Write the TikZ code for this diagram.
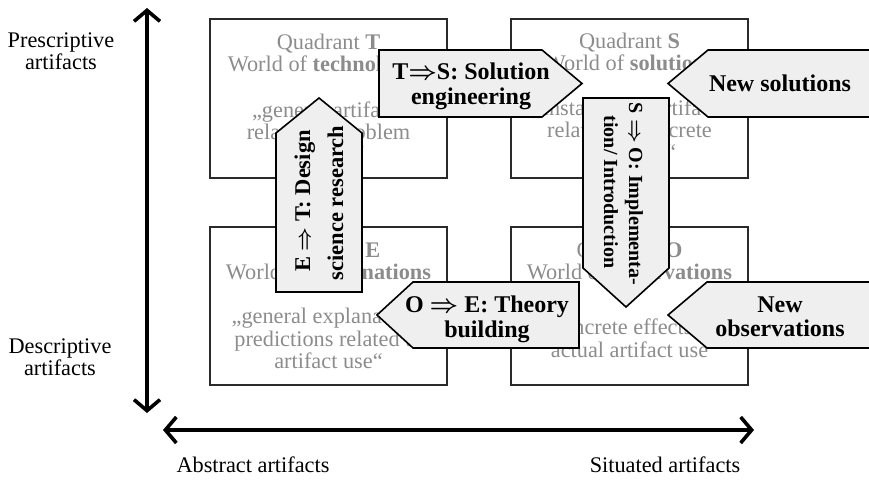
\documentclass[tikz,border=0pt]{standalone}
\usepackage{fontspec}
\setmainfont{Liberation Serif}
\usetikzlibrary{arrows.meta}
\definecolor{quadgray}{HTML}{8C8C8C}
\definecolor{arrowfill}{HTML}{EFEFEF}
\definecolor{boxline}{HTML}{2A2A2A}
\newcommand{\impl}{{\boldmath$\Rightarrow$}}
\begin{document}
\begin{tikzpicture}[x=1pt,y=-1pt,
  quadbox/.style={draw=boxline,line width=2.4pt},
  quadtext/.style={anchor=base,text=quadgray,inner sep=0pt,font=\fontsize{22.3}{26}\selectfont},
  flowshape/.style={draw=black,fill=arrowfill,line width=1.6pt,line join=miter},
  flowtext/.style={anchor=base,inner sep=0pt,font=\fontsize{24}{26}\selectfont\bfseries},
  flowtextup/.style={flowtext,rotate=90,font=\fontsize{22.5}{26}\selectfont\bfseries},
  flowtextdown/.style={flowtext,rotate=-90,font=\fontsize{20}{26}\selectfont\bfseries},
  axislabel/.style={anchor=base,inner sep=0pt,font=\fontsize{22.3}{26}\selectfont},
  axisline/.style={line width=3.6pt,
    {Straight Barb[length=11pt,width=26pt]}-{Straight Barb[length=11pt,width=26pt]}}]

\useasboundingbox (0,0) rectangle (869,481);
\clip (0,0) rectangle (869,481);

% the four quadrants
\draw[quadbox] (210,19) rectangle (447,178);
\draw[quadbox] (511,19) rectangle (748,178);
\draw[quadbox] (210,227) rectangle (447,385);
\draw[quadbox] (511,227) rectangle (748,385);

% quadrant T
\node[quadtext] (t1) at (328.5,50) {Quadrant \textbf{T}};
\node[quadtext] (t2) at (328.5,72) {World of \textbf{technologies}};
\node[quadtext] (t3) at (328.5,118) {„general artifacts};
\node[quadtext] (t4) at (328.5,140) {related to problem};
\node[quadtext] (t5) at (328.5,162) {classes“};

% quadrant S
\node[quadtext] (s1) at (629.5,49) {Quadrant \textbf{S}};
\node[quadtext] (s2) at (629.5,71) {World of \textbf{solutions}};
\node[quadtext] (s3) at (629.5,116) {„instances of artifacts};
\node[quadtext] (s4) at (629.5,138) {related to concrete};
\node[quadtext] (s5) at (629.5,160) {problems“};

% quadrant E
\node[quadtext] (e1) at (328.5,257) {Quadrant \textbf{E}};
\node[quadtext] (e2) at (328.5,279) {World of \textbf{explanations}};
\node[quadtext] (e3) at (328.5,323) {„general explanations};
\node[quadtext] (e4) at (328.5,346) {predictions related to};
\node[quadtext] (e5) at (328.5,368) {artifact use“};

% quadrant O
\node[quadtext] (o1) at (629.5,257) {Quadrant \textbf{O}};
\node[quadtext] (o2) at (629.5,279) {World of \textbf{observations}};
\node[quadtext] (o3) at (629.5,334) {„concrete effects of};
\node[quadtext] (o4) at (629.5,357) {actual artifact use};

% E => T (pointing up)
\draw[flowshape] (276,292) -- (276,133) -- (319,98) -- (362,133) -- (362,292) -- cycle;
\node[flowtextup] (et1) at (310,201) {E \impl{} T: Design};
\node[flowtextup] (et2) at (343,203) {science research};

% T => S (pointing right)
\draw[flowshape] (379,50) -- (542,50) -- (582,83.5) -- (542,117) -- (379,117) -- cycle;
\node[flowtext] (ts1) at (471,80) {T\impl{}S: Solution};
\node[flowtext] (ts2) at (471,105) {engineering};

% new solutions (pointing left, running off the right edge)
\draw[flowshape] (880,50) -- (708,50) -- (668,83.5) -- (708,117) -- (880,117) -- cycle;
\node[flowtext] (ns) at (780,91.5) {New solutions};

% S => O (pointing down)
\draw[flowshape] (583,98) -- (669,98) -- (669,268) -- (626,307) -- (583,268) -- cycle;
\node[flowtextdown] (so1) at (629,194) {S \impl{} O: Implementa-};
\node[flowtextdown] (so2) at (604,192) {tion/ Introduction};

% O => E (pointing left)
\draw[flowshape] (579,282) -- (413,282) -- (377,315) -- (413,348) -- (579,348) -- cycle;
\node[flowtext] (oe1) at (487,312) {O \impl{} E: Theory};
\node[flowtext] (oe2) at (487,337) {building};

% new observations (pointing left, running off the right edge)
\draw[flowshape] (880,282) -- (707,282) -- (668,315) -- (707,348) -- (880,348) -- cycle;
\node[flowtext] (no1) at (780,312) {New};
\node[flowtext] (no2) at (780,336) {observations};

% axes
\coordinate (vtop) at (147,8);
\coordinate (vbot) at (147,413);
\coordinate (hleft) at (163,430);
\coordinate (hright) at (754,430);
\draw[axisline] (vbot) -- (vtop);
\draw[axisline] (hleft) -- (hright);

\node[axislabel] (pr1) at (61,48) {Prescriptive};
\node[axislabel] (pr2) at (61,70) {artifacts};
\node[axislabel] (de1) at (60,353) {Descriptive};
\node[axislabel] (de2) at (60,375) {artifacts};
\node[axislabel] (ab) at (253,472) {Abstract artifacts};
\node[axislabel] (si) at (665,472) {Situated artifacts};
\end{tikzpicture}
\end{document}
